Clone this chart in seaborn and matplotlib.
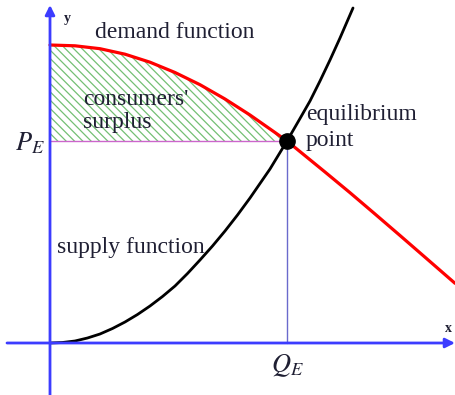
import matplotlib
matplotlib.use("Agg")
import matplotlib.pyplot as plt
import seaborn as sns

# values (origin at the axes crossing)
demand_x = [0.0, 0.25, 0.5, 0.75, 1.0, 1.25, 1.5, 1.75, 2.0, 2.25, 2.37, 2.5, 2.75, 3.0, 3.25, 3.5, 3.75, 4.05]
demand_y = [2.98, 2.972, 2.943, 2.888, 2.808, 2.705, 2.583, 2.44, 2.28, 2.105, 2.02, 1.914, 1.71, 1.503, 1.29, 1.075, 0.858, 0.597]
supply_x = [0.0, 0.125, 0.25, 0.375, 0.5, 0.625, 0.75, 0.875, 1.0, 1.125, 1.25, 1.375, 1.5, 1.625, 1.75, 1.875,
            2.0, 2.1, 2.2, 2.37, 2.5, 2.6, 2.7, 2.8, 2.9, 3.03]
supply_y = [0.0, 0.005, 0.02, 0.05, 0.09, 0.145, 0.21, 0.285, 0.37, 0.465, 0.57, 0.695, 0.83, 0.97, 1.12, 1.28,
            1.45, 1.595, 1.74, 2.02, 2.245, 2.42, 2.62, 2.83, 3.05, 3.35]
q_e = 2.37
p_e = 2.02

sns.set_style("white")
plt.rcParams['font.family'] = ['Liberation Serif', 'DejaVu Serif']
plt.rcParams['mathtext.fontset'] = 'stix'
plt.rcParams['hatch.linewidth'] = 0.9

fig = plt.figure(figsize=(4.55, 3.95), dpi=100)
ax = fig.add_axes([0, 0, 1, 1])
ax.set_xlim(-0.5, 4.05)
ax.set_ylim(-0.52, 3.43)
ax.axis('off')

txt = '#1f1f33'
axis_blue = '#3c3cff'

# axes with arrows
ax.annotate('', xy=(4.05, 0), xytext=(-0.43, 0),
            arrowprops=dict(arrowstyle='-|>', color=axis_blue, lw=2, mutation_scale=14, shrinkA=0, shrinkB=0))
ax.annotate('', xy=(0, 3.38), xytext=(0, -0.52),
            arrowprops=dict(arrowstyle='-|>', color=axis_blue, lw=2, mutation_scale=14, shrinkA=0, shrinkB=0))

# consumers' surplus
fx = [x for x in demand_x if x <= q_e]
fy = demand_y[:len(fx)]
ax.fill_between(fx, p_e, fy, facecolor='none', edgecolor='#74bf74', hatch='\\\\\\\\', linewidth=0)

# guide lines
ax.plot([0, q_e], [p_e, p_e], color='#cc66cc', lw=1)
ax.plot([q_e, q_e], [0, p_e], color='#6a6acc', lw=1)

sns.lineplot(x=demand_x, y=demand_y, sort=False, color='#ff0000', lw=2.3, ax=ax)
sns.lineplot(x=supply_x, y=supply_y, sort=False, color='black', lw=2, ax=ax)
ax.plot([q_e], [p_e], 'o', color='black', ms=11)

fs = 17
ax.text(1.25, 3.11, 'demand function', fontsize=fs, color=txt, ha='center', va='center')
ax.text(0.33, 2.44, "consumers'", fontsize=fs, color=txt, ha='left', va='center')
ax.text(0.33, 2.21, 'surplus', fontsize=fs, color=txt, ha='left', va='center')
ax.text(2.56, 2.29, 'equilibrium', fontsize=fs, color=txt, ha='left', va='center')
ax.text(2.56, 2.03, 'point', fontsize=fs, color=txt, ha='left', va='center')
ax.text(0.07, 0.96, 'supply function', fontsize=fs, color=txt, ha='left', va='center')
ax.text(-0.05, 2.0, r'$P_E$', fontsize=19, color=txt, ha='right', va='center')
ax.text(q_e, -0.23, r'$Q_E$', fontsize=19, color=txt, ha='center', va='center')
ax.text(3.98, 0.15, 'x', fontsize=10, color=txt, ha='center', va='center', fontweight='bold')
ax.text(0.17, 3.25, 'y', fontsize=10, color=txt, ha='center', va='center', fontweight='bold')

fig.savefig('out.png', dpi=100)
